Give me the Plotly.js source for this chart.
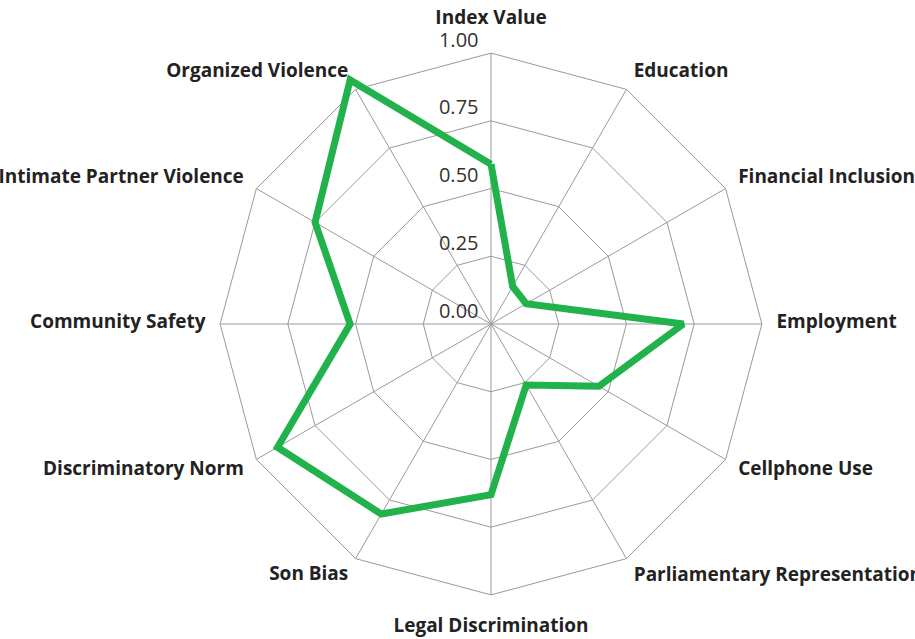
<!DOCTYPE html>
<html>
<head>
<meta charset="utf-8">
<script src="https://cdn.plot.ly/plotly-3.0.1.min.js"></script>
<style>html,body{margin:0;padding:0;background:#fff;}#chart{width:915px;height:639px;}</style>
</head>
<body>
<div id="chart"></div>
<script>
const categories = ["Index Value","Education","Financial Inclusion","Employment","Cellphone Use","Parliamentary Representation","Legal Discrimination","Son Bias","Discriminatory Norm","Community Safety","Intimate Partner Violence","Organized Violence"];
const values = [0.59, 0.16, 0.15, 0.71, 0.46, 0.26, 0.63, 0.81, 0.91, 0.52, 0.75, 1.04];
const radialTicks = [0, 0.25, 0.5, 0.75, 1];
// empty lines after / before each angular label (nudges its vertical placement)
const linesAfter  = [1, 0, 0, 0, 0, 1, 0, 2, 0, 0, 0, 0];
const linesBefore = [0, 0, 0, 0, 0, 0, 1, 0, 0, 0, 0, 0];
const angularLabels = categories.map((c, i) =>
  ' <br>'.repeat(linesBefore[i]) +
  '<span style="font-size:19px">' + c + '</span>' +
  '<br> '.repeat(linesAfter[i]));
const radialLabels = radialTicks.map(v => v.toFixed(2) + '<br> ');

const inner = 0.9;
const pad = (1 - inner) / 2;

const gridTrace = {
  type: 'scatterpolar',
  subplot: 'polar',
  r: [],
  theta: [],
  mode: 'lines',
  hoverinfo: 'skip'
};

const dataTrace = {
  type: 'scatterpolar',
  subplot: 'polar2',
  r: values.concat([values[0]]),
  theta: categories.concat([categories[0]]),
  mode: 'lines',
  line: {color: '#21b24b', width: 7},
  hoverinfo: 'skip'
};

const layout = {
  width: 915, height: 639,
  margin: {l: 190, r: 123, t: 23, b: 14},
  paper_bgcolor: '#fff',
  showlegend: false,
  font: {family: '"Open Sans", sans-serif', color: '#222'},
  polar: {
    domain: {x: [pad, 1 - pad], y: [pad, 1 - pad]},
    gridshape: 'linear',
    bgcolor: 'rgba(0,0,0,0)',
    radialaxis: {
      range: [0, 1],
      angle: 90,
      side: 'counterclockwise',
      tickangle: 90,
      tickmode: 'array',
      tickvals: radialTicks,
      ticktext: radialLabels,
      showline: false,
      ticks: 'outside',
      ticklen: 5,
      tickcolor: 'rgba(0,0,0,0)',
      gridcolor: '#9a9a9a',
      gridwidth: 1,
      tickfont: {family: '"Open Sans", sans-serif', size: 20, color: '#333'}
    },
    angularaxis: {
      type: 'category',
      categoryarray: categories,
      tickmode: 'array',
      tickvals: categories,
      ticktext: angularLabels,
      direction: 'clockwise',
      rotation: 90,
      showline: true,
      linecolor: '#9a9a9a',
      linewidth: 1,
      gridcolor: '#9a9a9a',
      ticks: 'outside',
      ticklen: 12,
      tickcolor: 'rgba(0,0,0,0)',
      tickfont: {family: '"Open Sans", sans-serif', size: 10, color: '#222', weight: 'bold'}
    }
  },
  polar2: {
    domain: {x: [0, 1], y: [0, 1]},
    gridshape: 'linear',
    bgcolor: 'rgba(0,0,0,0)',
    radialaxis: {range: [0, 1 / inner], visible: false},
    angularaxis: {
      type: 'category',
      categoryarray: categories,
      direction: 'clockwise',
      rotation: 90,
      visible: false
    }
  }
};

Plotly.newPlot('chart', [gridTrace, dataTrace], layout, {displayModeBar: false, staticPlot: true});
</script>
</body>
</html>
